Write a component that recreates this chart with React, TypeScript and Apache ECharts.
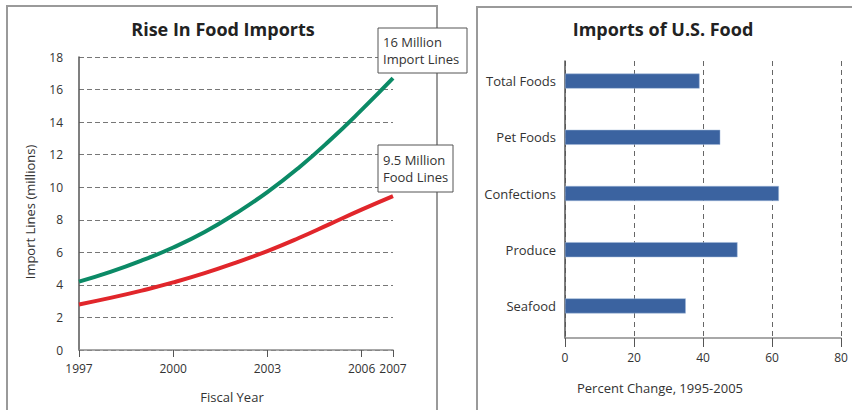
import React, { useEffect, useRef } from "react";
import * as echarts from "echarts";

const years = [1997, 1998, 1999, 2000, 2001, 2002, 2003, 2004, 2005, 2006, 2007];
const importLines = [4.2, 4.8, 5.5, 6.3, 7.25, 8.4, 9.7, 11.2, 12.9, 14.75, 16.7];
const foodLines = [2.8, 3.2, 3.65, 4.15, 4.72, 5.37, 6.08, 6.88, 7.75, 8.62, 9.45];
const yearTicks = [1997, 2000, 2003, 2006, 2007];

const categories = ["Total Foods", "Pet Foods", "Confections", "Produce", "Seafood"];
const percentChange = [39, 45, 62, 50, 35];

const FONT = "'Open Sans', sans-serif";

export default function App() {
  const ref = useRef<HTMLDivElement>(null);
  useEffect(() => {
    if (!ref.current) return;
    const chart = echarts.init(ref.current, undefined, { renderer: "svg" });
    const labelStyle = { color: "#333", fontSize: 12, fontFamily: FONT };
    chart.setOption({
      animation: false,
      backgroundColor: "#fff",
      textStyle: { fontFamily: FONT },
      grid: [
        { left: 79, top: 57, width: 314, height: 293 },
        { left: 565, top: 61, width: 276, height: 277 },
        { left: 565, top: 53, width: 276, height: 281 },
      ],
      xAxis: [
        {
          type: "value",
          gridIndex: 0,
          min: 1997,
          max: 2007,
          axisLine: { show: true, lineStyle: { color: "#8c8c8c", width: 1.5 } },
          axisTick: { show: true, customValues: yearTicks, length: 7, lineStyle: { color: "#555" } },
          axisLabel: { customValues: yearTicks, margin: 12, formatter: (v: number) => String(v), ...labelStyle },
          splitLine: { show: false },
        },
        {
          type: "value",
          gridIndex: 1,
          min: 0,
          max: 80,
          interval: 20,
          axisLine: { show: true, lineStyle: { color: "#8c8c8c", width: 1.5 } },
          axisTick: { show: true, length: 9, lineStyle: { color: "#555" } },
          axisLabel: { margin: 13, ...labelStyle },
          splitLine: { show: true, lineStyle: { type: [5, 4], color: "#666" } },
        },
        { type: "value", gridIndex: 2, min: 0, max: 80, show: false },
      ],
      yAxis: [
        {
          type: "value",
          gridIndex: 0,
          min: 0,
          max: 18,
          interval: 2,
          axisLine: { show: true, lineStyle: { color: "#555", width: 1.5 } },
          axisTick: { show: false },
          axisLabel: { margin: 16, ...labelStyle },
          splitLine: { show: true, lineStyle: { type: [5, 3], color: "#777" } },
        },
        {
          type: "category",
          gridIndex: 1,
          data: categories,
          axisLine: { show: true, lineStyle: { color: "#555", width: 1.5 } },
          axisTick: { show: false },
          axisLabel: { show: false },
        },
        {
          type: "category",
          gridIndex: 2,
          data: categories,
          inverse: true,
          axisLine: { show: false },
          axisTick: { show: false },
          axisLabel: { margin: 9, ...labelStyle, fontSize: 13 },
        },
      ],
      series: [
        {
          type: "line",
          xAxisIndex: 0,
          yAxisIndex: 0,
          data: years.map((y, i) => [y, importLines[i]]),
          smooth: true,
          showSymbol: false,
          symbol: "none",
          lineStyle: { width: 4, color: "#0b8a66" },
          z: 5,
        },
        {
          type: "line",
          xAxisIndex: 0,
          yAxisIndex: 0,
          data: years.map((y, i) => [y, foodLines[i]]),
          smooth: true,
          showSymbol: false,
          symbol: "none",
          lineStyle: { width: 4, color: "#e1262b" },
          z: 5,
        },
        {
          type: "bar",
          xAxisIndex: 2,
          yAxisIndex: 2,
          data: percentChange,
          barWidth: 15,
          itemStyle: { color: "#3b63a0", borderColor: "#9fb6d8", borderWidth: 0.5 },
          z: 5,
        },
      ],
      graphic: [
        { type: "rect", shape: { x: 7, y: 6, width: 430, height: 420 }, style: { fill: "none", stroke: "#9a9a9a", lineWidth: 2 }, z: 0 },
        { type: "rect", shape: { x: 477, y: 7, width: 400, height: 420 }, style: { fill: "none", stroke: "#9a9a9a", lineWidth: 2 }, z: 0 },
        { type: "text", x: 223, y: 29, style: { text: "Rise In Food Imports", fontSize: 18, fontWeight: "bold", fontFamily: FONT, fill: "#222", align: "center", verticalAlign: "middle" } },
        { type: "text", x: 663, y: 29, style: { text: "Imports of U.S. Food", fontSize: 18, fontWeight: "bold", fontFamily: FONT, fill: "#222", align: "center", verticalAlign: "middle" } },
        { type: "text", x: 30, y: 212, rotation: Math.PI / 2, style: { text: "Import Lines (millions)", fontSize: 13, fontFamily: FONT, fill: "#333", align: "center", verticalAlign: "middle" } },
        { type: "text", x: 232, y: 397, style: { text: "Fiscal Year", fontSize: 13, fontFamily: FONT, fill: "#333", align: "center", verticalAlign: "middle" } },
        { type: "text", x: 660, y: 388, style: { text: "Percent Change, 1995-2005", fontSize: 13, fontFamily: FONT, fill: "#333", align: "center", verticalAlign: "middle" } },
        { type: "rect", shape: { x: 378, y: 28, width: 89, height: 45 }, style: { fill: "#fff", stroke: "#555", lineWidth: 1 }, z: 10 },
        { type: "text", x: 383, y: 50, z: 11, style: { text: "16 Million\nImport Lines", fontSize: 13, lineHeight: 17, fontFamily: FONT, fill: "#333", align: "left", verticalAlign: "middle" } },
        { type: "rect", shape: { x: 378, y: 145, width: 75, height: 47 }, style: { fill: "#fff", stroke: "#555", lineWidth: 1 }, z: 10 },
        { type: "text", x: 383, y: 168.5, z: 11, style: { text: "9.5 Million\nFood Lines", fontSize: 13, lineHeight: 17, fontFamily: FONT, fill: "#333", align: "left", verticalAlign: "middle" } },
      ],
    });
    return () => chart.dispose();
  }, []);
  return <div ref={ref} style={{ position: "fixed", left: 0, top: 0, width: 852, height: 410 }} />;
}
